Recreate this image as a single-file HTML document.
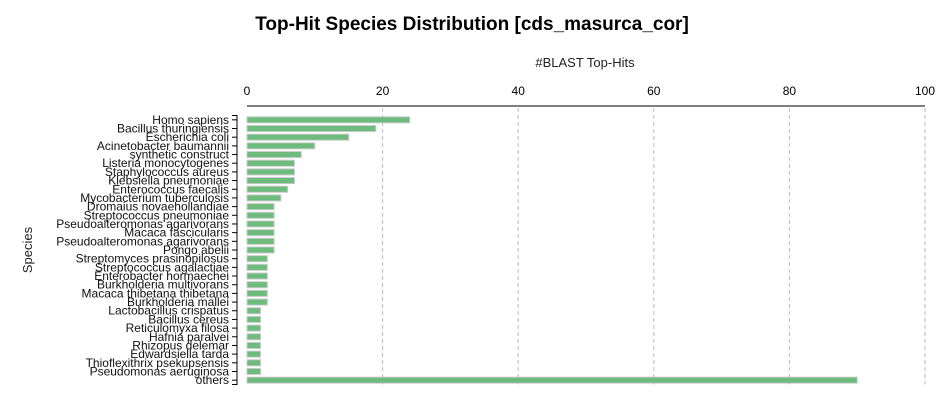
<!DOCTYPE html>
<html><head><meta charset="utf-8"><style>
body{margin:0;background:#fff;font-family:"Liberation Sans",sans-serif;}
</style></head><body>
<svg width="945" height="405" id="c">
<text x="472" y="30" text-anchor="middle" font-size="19" font-weight="bold" fill="#000">Top-Hit Species Distribution [cds_masurca_cor]</text>
<text x="585" y="67" text-anchor="middle" font-size="13" fill="#222">#BLAST Top-Hits</text>
<text transform="translate(32,250) rotate(-90)" text-anchor="middle" font-size="13" fill="#222">Species</text>
<g id="g"></g>
</svg>
<script>
const categories=["Homo sapiens","Bacillus thuringiensis","Escherichia coli","Acinetobacter baumannii","synthetic construct","Listeria monocytogenes","Staphylococcus aureus","Klebsiella pneumoniae","Enterococcus faecalis","Mycobacterium tuberculosis","Dromaius novaehollandiae","Streptococcus pneumoniae","Pseudoalteromonas agarivorans","Macaca fascicularis","Pseudoalteromonas agarivorans ","Pongo abelii","Streptomyces prasinopilosus","Streptococcus agalactiae","Enterobacter hormaechei","Burkholderia multivorans","Macaca thibetana thibetana","Burkholderia mallei","Lactobacillus crispatus","Bacillus cereus","Reticulomyxa filosa","Hafnia paralvei","Rhizopus delemar","Edwardsiella tarda","Thioflexithrix psekupsensis","Pseudomonas aeruginosa","others"];
const values=[24,19,15,10,8,7,7,7,6,5,4,4,4,4,4,4,3,3,3,3,3,3,2,2,2,2,2,2,2,2,90];
const tickValues=[0,20,40,60,80,100];
const ns="http://www.w3.org/2000/svg",g=document.getElementById('g');
const x0=247,x1=925,xmax=100,yTop=115.5,yBot=384.5;
const xs=v=>x0+(x1-x0)*v/xmax;
const step=(yBot-yTop)/categories.length;
const ys=i=>yTop+step*i;
function mk(t,a){const e=document.createElementNS(ns,t);for(const k in a)e.setAttribute(k,a[k]);g.appendChild(e);return e;}
tickValues.forEach(t=>{
 if(t>0){const l=mk('line',{x1:xs(t),x2:xs(t),y1:108,y2:yBot,stroke:'#bbb','stroke-dasharray':'4,3'});
 
 }
 const tx=mk('text',{x:xs(t),y:95,'text-anchor':'middle','font-size':'12',fill:'#000'});tx.textContent=t;
 
 
});
const ax=mk('line',{x1:x0,x2:x1,y1:106,y2:106,stroke:'#000'});


const ay=mk('path',{d:`M232,${yTop}H237V${yBot}H232`,fill:'none',stroke:'#000'});


categories.forEach((c,i)=>{
 const cy=ys(i)+step/2;
 const b=mk('rect',{x:x0,y:ys(i)+1.3,width:xs(values[i])-x0,height:step-2.6,fill:'#6dbb7d',stroke:'#ccc','stroke-width':'1'});
 
 
 const tk=mk('line',{x1:232,x2:237,y1:cy,y2:cy,stroke:'#000'});
 
 
 const t=mk('text',{x:229,y:cy+4,'text-anchor':'end','font-size':'12',fill:'#111'});t.textContent=c;
 
 
});
</script>
</body></html>
